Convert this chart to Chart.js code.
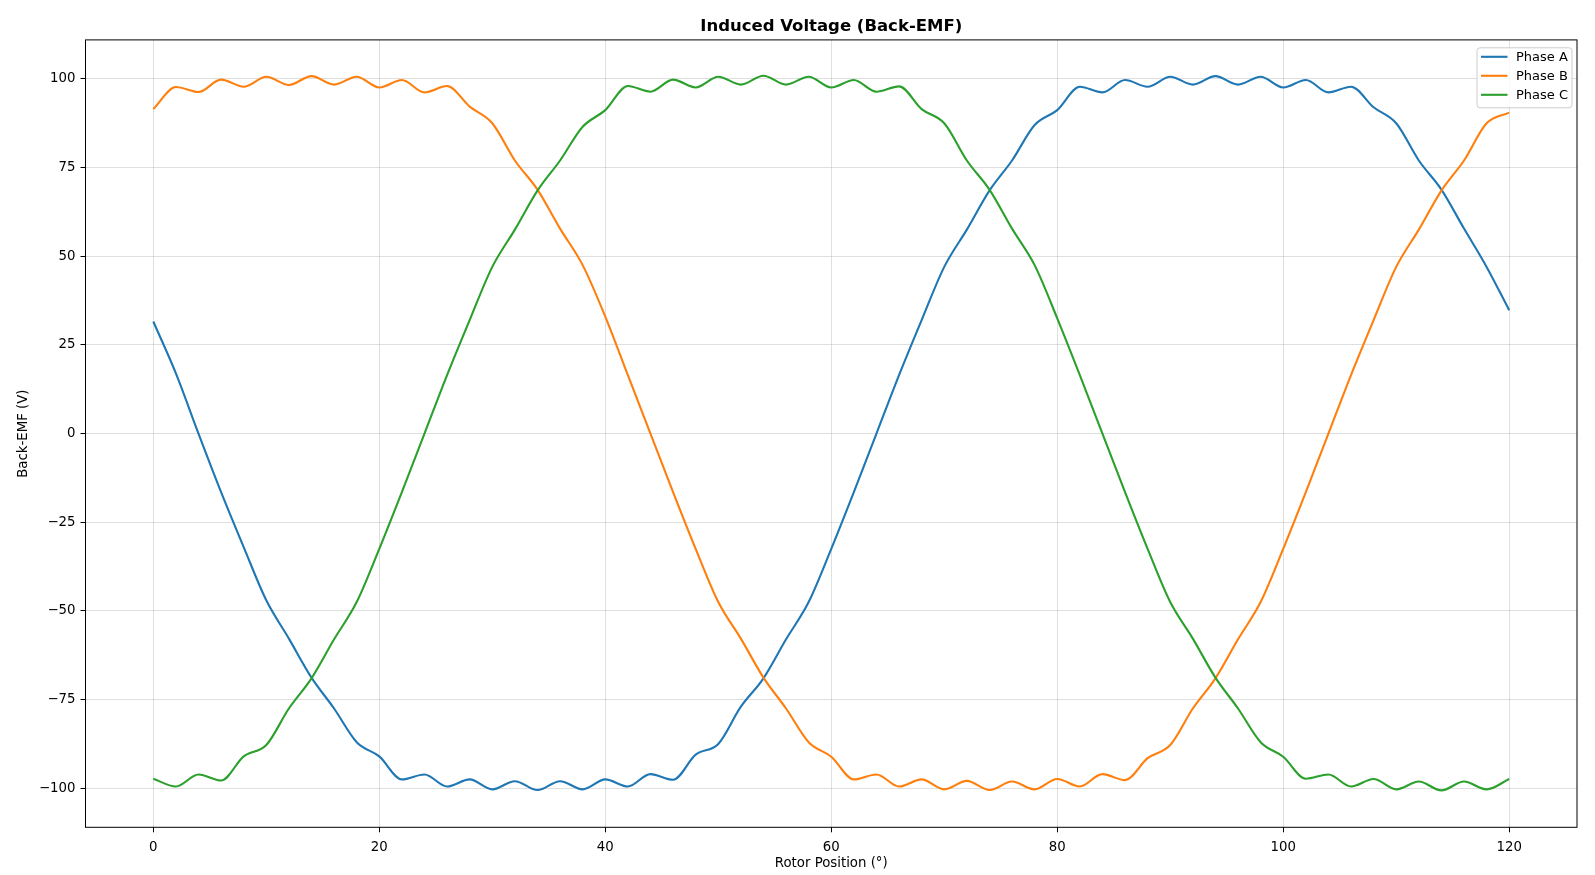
<!DOCTYPE html>
<html>
<head>
<meta charset="utf-8">
<title>Induced Voltage (Back-EMF)</title>
<script src="https://cdn.jsdelivr.net/npm/chart.js@4.4.1/dist/chart.umd.min.js"></script>
<style>
html,body{margin:0;padding:0;background:#fff;}
canvas{display:block;}
</style>
</head>
<body>
<canvas id="emfChart" width="1595" height="875"></canvas>
<script>
// rotor position (deg), sampled every 2 deg
const rotorDeg = [0,2,4,6,8,10,12,14,16,18,20,22,24,26,28,30,32,34,36,38,40,42,44,46,48,50,52,54,56,58,
  60,62,64,66,68,70,72,74,76,78,80,82,84,86,88,90,92,94,96,98,100,102,104,106,108,110,112,114,116,118,120];

// back-emf per phase (V)
const phaseA = [31.6,17.0,0.0,-16.5,-32.0,-47.0,-57.8,-68.8,-77.5,-87.0,-91.0,-97.5,-96.1,-99.5,-97.5,-100.3,-98.0,-100.5,-98.0,-100.3,
  -97.5,-99.5,-96.0,-97.6,-90.5,-87.5,-77.0,-69.0,-58.0,-47.5,-32.5,-16.5,0.0,16.5,32.0,47.0,57.5,68.5,77.0,87.0,
  91.2,97.8,96.2,99.7,97.8,100.6,98.4,100.8,98.4,100.6,97.6,99.7,96.2,97.8,92.0,87.5,77.0,68.8,57.8,47.0,34.8];
const phaseB = [91.5,97.7,96.3,99.8,97.8,100.6,98.3,100.8,98.4,100.6,97.6,99.7,96.2,98.0,92.2,87.5,77.0,68.8,57.8,47.5,
  33.0,16.5,0.0,-16.5,-32.5,-47.5,-57.8,-68.8,-77.5,-87.0,-91.1,-97.5,-96.1,-99.5,-97.5,-100.3,-97.9,-100.5,-98.1,-100.3,
  -97.4,-99.5,-96.0,-97.7,-91.5,-87.8,-77.5,-69.0,-58.0,-47.5,-32.5,-16.5,0.0,16.5,32.0,47.0,57.5,68.5,77.0,87.5,90.5];
const phaseC = [-97.3,-99.5,-96.1,-97.8,-91.0,-87.8,-77.5,-69.0,-58.0,-47.5,-32.5,-16.5,0.0,16.5,32.0,47.0,57.5,68.5,77.0,86.5,
  91.2,98.0,96.4,99.8,97.6,100.6,98.4,100.9,98.4,100.6,97.6,99.7,96.4,97.9,91.5,87.5,77.0,68.8,57.8,47.5,
  32.5,16.5,0.0,-16.5,-32.5,-47.5,-57.8,-68.8,-77.5,-87.0,-91.1,-97.3,-96.1,-99.5,-97.4,-100.3,-98.1,-100.6,-98.1,-100.3,-97.4];

const xTicks = [0,20,40,60,80,100,120];
const yTicks = [-100,-75,-50,-25,0,25,50,75,100];

const FONT = "'DejaVu Sans', sans-serif";
const pts = arr => rotorDeg.map((x,i)=>({x, y:arr[i]}));
const minus = v => v<0 ? "\u2212"+Math.abs(v) : String(v);

// black box round the plot (matplotlib spines)
const framePlugin = {
  id:"frame",
  afterDatasetsDraw(chart){
    const {ctx, chartArea:a} = chart;
    ctx.save();
    ctx.strokeStyle="#000"; ctx.lineWidth=1;
    ctx.strokeRect(a.left, a.top, a.right-a.left, a.bottom-a.top);
    ctx.restore();
  }
};

// legend inside upper right corner
const legendPlugin = {
  id:"innerLegend",
  afterDraw(chart){
    const {ctx, chartArea:a} = chart;
    const w=95, h=60;
    const x0=a.right-5.5-w, y0=a.top+7.4;
    ctx.save();
    ctx.fillStyle="rgba(255,255,255,0.8)";
    ctx.strokeStyle="#cccccc"; ctx.lineWidth=1;
    ctx.beginPath(); ctx.roundRect(x0+0.5,y0+0.5,w,h,3); ctx.fill(); ctx.stroke();
    ctx.font="13px "+FONT; ctx.textBaseline="middle"; ctx.fillStyle="#000";
    chart.data.datasets.forEach((ds,i)=>{
      const yy=y0+9.5+i*19;
      ctx.strokeStyle=ds.borderColor; ctx.lineWidth=2.1;
      ctx.beginPath(); ctx.moveTo(x0+4.5,yy); ctx.lineTo(x0+31,yy); ctx.stroke();
      ctx.fillText(ds.label, x0+39.5, yy+0.5);
    });
    ctx.restore();
  }
};

const gridCfg = {color:"rgba(176,176,176,0.4)", lineWidth:1, tickColor:"#000", tickLength:5};
const tickFont = {family:FONT, size:13.3};

new Chart(document.getElementById("emfChart"), {
  type:"line",
  data:{datasets:[
    {label:"Phase A", data:pts(phaseA), borderColor:"#1f77b4", order:2},
    {label:"Phase B", data:pts(phaseB), borderColor:"#ff7f0e", order:1},
    {label:"Phase C", data:pts(phaseC), borderColor:"#2ca02c", order:0}
  ]},
  options:{
    responsive:false, animation:false,
    elements:{point:{radius:0}, line:{borderWidth:2.1, cubicInterpolationMode:"monotone", fill:false}},
    layout:{padding:{left:0, right:18, top:0, bottom:0}},
    plugins:{
      legend:{display:false}, tooltip:{enabled:false},
      title:{display:true, fullSize:false, text:"Induced Voltage (Back-EMF)", color:"#000",
        font:{family:FONT, size:16.5, weight:"bold"}, padding:{top:16.6, bottom:3.5}}
    },
    scales:{
      x:{
        type:"linear", min:-6, max:126,
        afterBuildTicks: ax=>{ ax.ticks = xTicks.map(v=>({value:v})); },
        afterFit: s=>{ s.height = 47.7; },
        ticks:{color:"#000", font:tickFont, padding:7, maxRotation:0, callback:v=>minus(v)},
        grid:gridCfg, border:{display:false},
        title:{display:true, text:"Rotor Position (°)", color:"#000", font:tickFont, padding:{top:0, bottom:3.5}}
      },
      y:{
        min:-111, max:111,
        afterBuildTicks: ax=>{ ax.ticks = yTicks.map(v=>({value:v})); },
        afterFit: s=>{ s.width = 85.5; },
        ticks:{color:"#000", font:tickFont, padding:5, callback:v=>minus(v)},
        grid:gridCfg, border:{display:false},
        title:{display:true, text:"Back-EMF (V)", color:"#000", font:tickFont, padding:{top:16, bottom:0}}
      }
    }
  },
  plugins:[framePlugin, legendPlugin]
});
</script>
</body>
</html>
